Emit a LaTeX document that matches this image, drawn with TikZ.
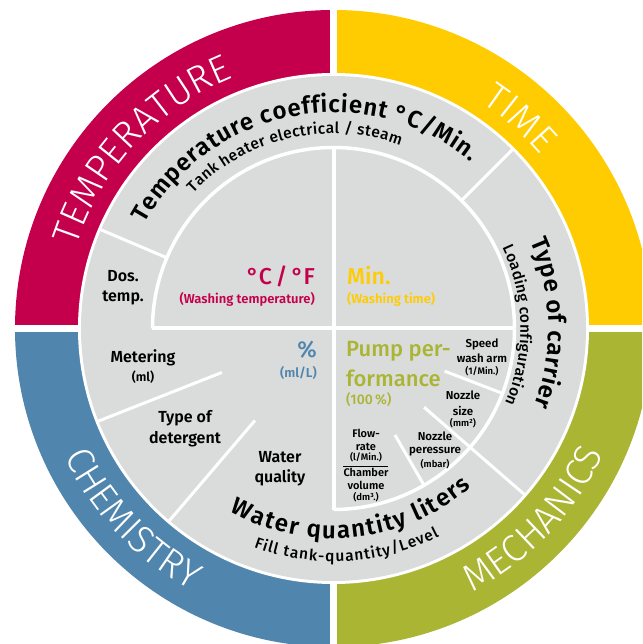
\documentclass[tikz,border=0pt]{standalone}
\usepackage{fontspec}
\setmainfont{Fira Sans}
\newfontfamily\ringfont{Fira Sans Light}
\newfontfamily\semifont{Fira Sans SemiBold}
\newfontfamily\medfont{Fira Sans Medium}
\usetikzlibrary{calc,decorations.text}

\definecolor{tempred}{RGB}{196,0,76}
\definecolor{timeyellow}{RGB}{254,204,0}
\definecolor{chemblue}{RGB}{80,133,174}
\definecolor{mechgreen}{RGB}{170,181,52}
\definecolor{discgrey}{RGB}{218,219,219}

\tikzset{
  sepline/.style={draw=white,line width=3},
  crossline/.style={draw=white,line width=4},
  arcline/.style={draw=white,line width=3.5},
  ringlabel/.style={decorate,decoration={text along path,text align=center,
      text color=white,text={|\ringfont\fontsize{38}{38}\selectfont|#1}}},
  arctitle/.style={decorate,decoration={text along path,text align={fit to path},
      text color=black,text={|\semifont\fontsize{24}{24}\selectfont|#1}}},
  arcsub/.style={decorate,decoration={text along path,text align={fit to path},
      text color=black,text={|\medfont\fontsize{15.5}{15.5}\selectfont|#1}}},
  bigval/.style={font=\medfont\fontsize{23}{29}\selectfont,inner sep=0pt},
  unitval/.style={font=\semifont\fontsize{13}{15}\selectfont,inner sep=0pt},
  seclabel/.style={font=\semifont\fontsize{16}{20}\selectfont,align=center,inner sep=0pt},
  smalllabel/.style={font=\semifont\fontsize{11.5}{15}\selectfont,align=center,inner sep=0pt},
  flowlabel/.style={font=\semifont\fontsize{11}{12.5}\selectfont,align=center,inner sep=0pt},
}
\newcommand\tinyfont{\fontsize{9.5}{11}\selectfont}

\begin{document}
\begin{tikzpicture}[x=1pt,y=1pt]

  \useasboundingbox (-333.5,-315.5) rectangle (308.5,328.5);
  \fill[white] (-333.5,-315.5) rectangle (308.5,328.5);
  \clip (-333.5,-315.5) rectangle (308.5,328.5);

  % outer ring, one colour per quadrant
  \foreach \col/\ang in {timeyellow/0,tempred/90,chemblue/180,mechgreen/270}{
    \fill[\col] (0,0) -- (\ang:318.5) arc[start angle=\ang,delta angle=90,radius=318.5] -- cycle;
  }
  \draw[white,line width=7] (-330,0) -- (330,0);
  \draw[white,line width=7] (0,-330) -- (0,330);

  % grey disc
  \fill[white] (0,0) circle (255.5);
  \fill[discgrey] (0,0) circle (252.5);

  \draw[arcline] (181,0) arc[start angle=0,end angle=180,radius=181];
  \draw[arcline] (0,-181) arc[start angle=-90,end angle=0,radius=181];
  \draw[crossline] (-181,0) -- (181,0);
  \draw[crossline] (0,181) -- (0,-181);

  \foreach \ang/\rin/\rout in {157/181/253,45/181/253,201.5/120/253,229.5/121/253,
                               -21/119/181,-41/120/253,-60/123/181}{
    \draw[sepline] (\ang:\rin) -- (\ang:\rout);
  }

  % ring labels
  \path[ringlabel=TEMPERATURE] (197:270) arc[start angle=197,end angle=77,radius=270];
  \path[ringlabel=TIME] (108.4:270) arc[start angle=108.4,end angle=-11.6,radius=270];
  \path[ringlabel=CHEMISTRY] (163.5:298) arc[start angle=163.5,end angle=283.5,radius=298];
  \path[ringlabel=MECHANICS] (256.5:298) arc[start angle=256.5,end angle=376.5,radius=298];

  % middle ring titles
  \path[arctitle={Temperature coefficient °C/Min.}] (151:216) arc[start angle=151,end angle=50.5,radius=216];
  \path[arcsub={Tank heater electrical / steam}] (136:195) arc[start angle=136,end angle=70,radius=195];
  \path[arctitle={Type of carrier}] (24:215) arc[start angle=24,end angle=-21,radius=215];
  \path[arcsub={Loading configuration}] (25.5:187) arc[start angle=25.5,end angle=-23.5,radius=187];
  \path[arctitle={Water quantity liters}] (240.5:210) arc[start angle=240.5,end angle=311,radius=210];
  \path[arcsub={Fill tank-quantity/Level}] (250:233) arc[start angle=250,end angle=297,radius=233];

  % centre values
  \node[bigval,text=tempred,anchor=base east] (tempunit) at (-18.5,43.5) {°C\,/\,°F};
  \node[unitval,text=tempred,anchor=base east] (tempnote) at (-18.5,24.5) {(Washing temperature)};
  \node[bigval,text=timeyellow,anchor=base west] (timeunit) at (13.5,43.5) {Min.};
  \node[unitval,text=timeyellow,anchor=base west] (timenote) at (13.5,24.5) {(Washing time)};
  \node[bigval,text=chemblue,anchor=base east] (chemunit) at (-16.5,-29.5) {\%};
  \node[unitval,text=chemblue,anchor=base east] (chemnote) at (-16.5,-49.5) {(ml/L)};
  \node[bigval,font=\medfont\fontsize{22}{30}\selectfont,text=mechgreen,anchor=base west,align=left] (mechunit) at (12.5,-58.5) {Pump per-\\formance};
  \node[unitval,font=\medfont\fontsize{14}{16}\selectfont,text=mechgreen,anchor=base west] (mechnote) at (12.5,-76.5) {(100\,\%)};

  % sector labels
  \node[seclabel,anchor=base] (dostemp) at (-210.5,26.5) {Dos.\\temp.};
  \node[seclabel,anchor=base] (metering) at (-190.5,-53.5) {Metering\\[-1pt]{\fontsize{12.5}{15}\selectfont(ml)}};
  \node[seclabel,anchor=base] (detergent) at (-148.5,-114.5) {Type of\\detergent};
  \node[seclabel,anchor=base] (waterqual) at (-53.5,-153.5) {Water\\quality};

  \node[smalllabel,anchor=base] (washarm) at (148.5,-46.5) {Speed\\wash arm\\[-3pt]{\tinyfont(1/Min.)}};
  \node[smalllabel,anchor=base] (nozzlesize) at (129.5,-98.5) {Nozzle\\size\\[-3pt]{\tinyfont(mm²)}};
  \node[smalllabel,anchor=base] (nozzlepress) at (101.5,-138.5) {Nozzle\\[-2pt]peressure\\[-1pt]{\tinyfont(mbar)}};
  \node[flowlabel,anchor=base] (flowrate) at (32.5,-131.5) {Flow-\\rate\\[-2.5pt]{\tinyfont(l/Min.)}};
  \node[flowlabel,anchor=base] (chamber) at (32.5,-171.5) {Chamber\\volume\\[-1.5pt]{\tinyfont(dm³.)}};
  \draw[black,line width=0.8] (9.5,-137.5) -- (54.5,-137.5);

\end{tikzpicture}
\end{document}
